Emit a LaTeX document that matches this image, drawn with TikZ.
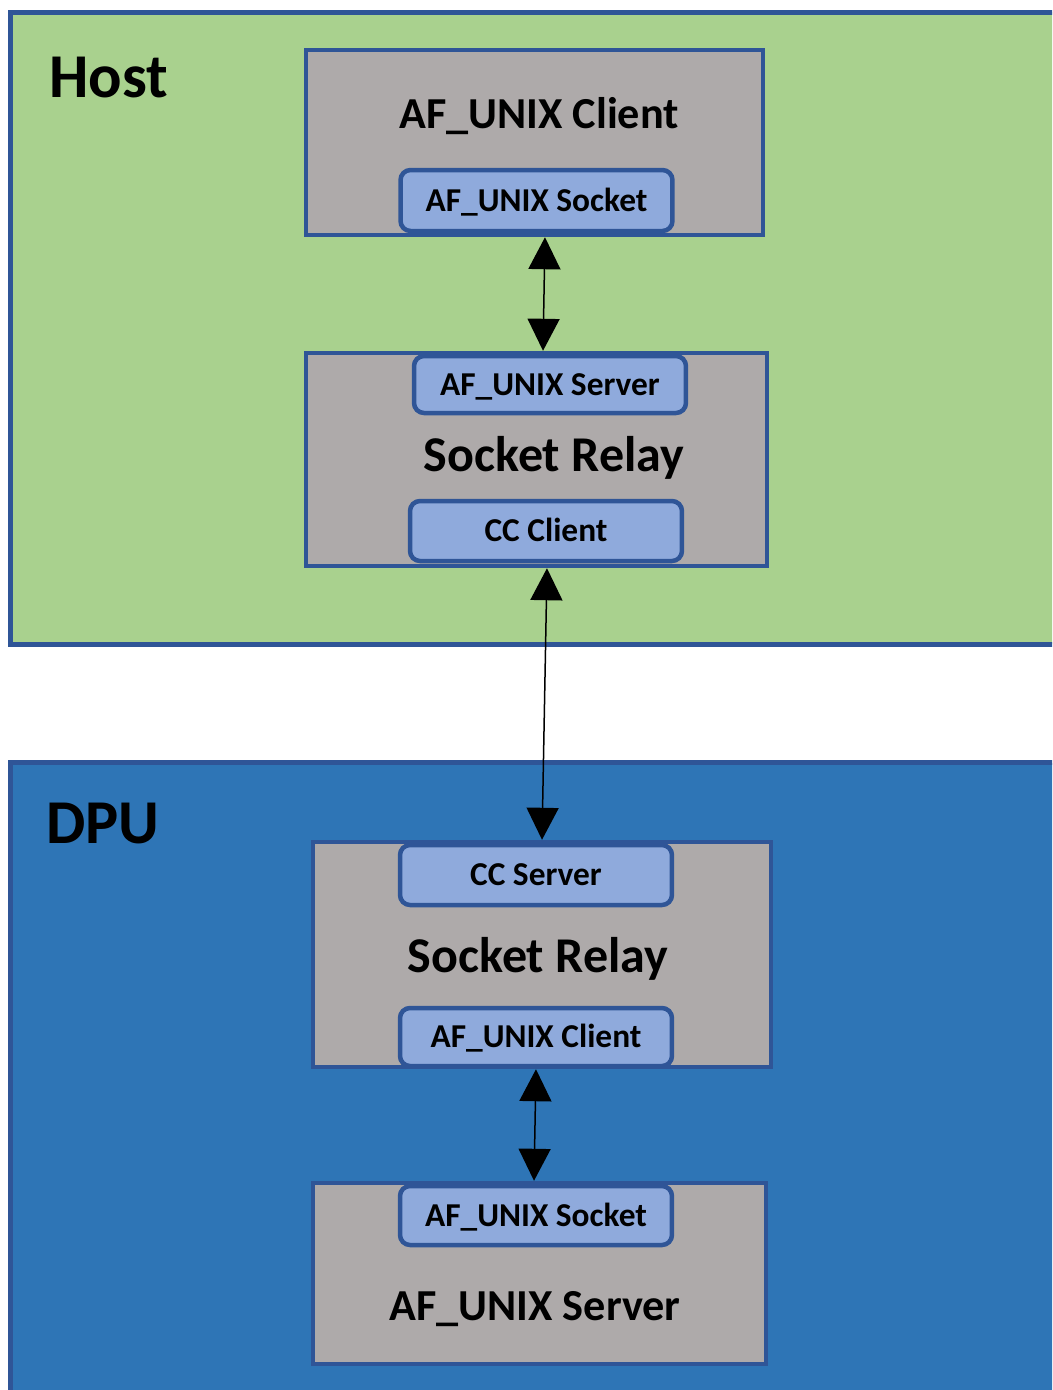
\documentclass[tikz,border=0pt]{standalone}
\usepackage{fontspec}
\setmainfont{Carlito}
\usetikzlibrary{arrows.meta,calc}
\definecolor{hostgreen}{HTML}{A9D18E}
\definecolor{dpublue}{HTML}{2E75B6}
\definecolor{rand}{HTML}{2F5597}
\definecolor{kasten}{HTML}{AEAAAA}
\definecolor{innen}{HTML}{8FAADC}
\tikzset{
	zona/.style={rectangle, draw=rand, line width=0.1cm, inner sep=0pt,
		minimum width=21.2cm},
	zonatext/.style={anchor=base west, inner sep=0pt, 
		font=\bfseries\fontsize{35.5pt}{42pt}\selectfont},
	proceso/.style={rectangle, draw=rand, fill=kasten, line width=0.09cm, 
		inner sep=0pt},
	procesotext/.style={anchor=base, inner sep=0pt, 
		font=\bfseries\fontsize{25.2pt}{30pt}\selectfont},
	relaytext/.style={anchor=base, inner sep=0pt, 
		font=\bfseries\fontsize{28.5pt}{34pt}\selectfont},
	puerto/.style={rectangle, rounded corners=0.2cm, draw=rand, fill=innen, 
		line width=0.09cm, inner sep=0pt, minimum width=5.44cm, 
		minimum height=1.18cm, text height=12.2pt, text depth=0pt,
		font=\bfseries\fontsize{19pt}{23pt}\selectfont},
	enlace/.style={{Triangle[width=0.64cm,length=0.64cm]}-{Triangle[width=0.64cm,length=0.64cm]}, 
		line width=0.03cm, black}
}

\begin{document}
\begin{tikzpicture}[x=0.02cm, y=-0.02cm]
	\clip (0,0) rectangle (1052,1390);
	\fill[white] (0,0) rectangle (1052,1390);
	
	% zonas
	\node[zona, fill=hostgreen, minimum height=12.65cm] (host) at (540,328.25) {};
	\node[zona, fill=dpublue, minimum height=12.75cm] (dpu) at (540,1081.25) {};
	\node[zonatext] (hosttext) at (49,97) {Host};
	\node[zonatext] (dputext) at (46,843) {DPU};
	
	% host
	\node[proceso, minimum width=9.14cm, minimum height=3.7cm] (cliente) at (534.5,142.5) {};
	\node[procesotext] (clientetext) at (539,128) {AF\_UNIX Client};
	\node[puerto, minimum height=1.22cm] (socket1) at (536.5,200.5) {AF\_UNIX Socket};
	
	\node[proceso, minimum width=9.22cm, minimum height=4.26cm] (relay1) at (536.5,459.5) {};
	\node[puerto, minimum height=1.14cm] (servidor1) at (550,384.5) {AF\_UNIX Server};
	\node[relaytext] (relay1text) at (554,471) {Socket Relay};
	\node[puerto, minimum height=1.2cm] (ccclient) at (546,531) {CC Client};
	
	% dpu
	\node[proceso, minimum width=9.16cm, minimum height=4.5cm] (relay2) at (542,954.5) {};
	\node[puerto, minimum height=1.2cm] (ccserver) at (536,875) {CC Server};
	\node[relaytext] (relay2text) at (538,972) {Socket Relay};
	\node[puerto, minimum height=1.16cm] (cliente2) at (536,1037) {AF\_UNIX Client};
	
	\node[proceso, minimum width=9.06cm, minimum height=3.62cm] (servidor) at (539.5,1273.5) {};
	\node[puerto] (socket2) at (536,1215.5) {AF\_UNIX Socket};
	\node[procesotext] (servidortext) at (535,1320) {AF\_UNIX Server};
	
	% enlaces
	\draw[enlace] ($(cliente.south)+(10.5,0)$) -- ($(relay1.north)+(6.5,0)$);
	\draw[enlace] ($(relay1.south)+(10.5,0)$) -- ($(relay2.north)+(0,0)$);
	\draw[enlace] ($(relay2.south)+(-6,0)$) -- ($(servidor.north)+(-5.5,0)$);
\end{tikzpicture}
\end{document}
